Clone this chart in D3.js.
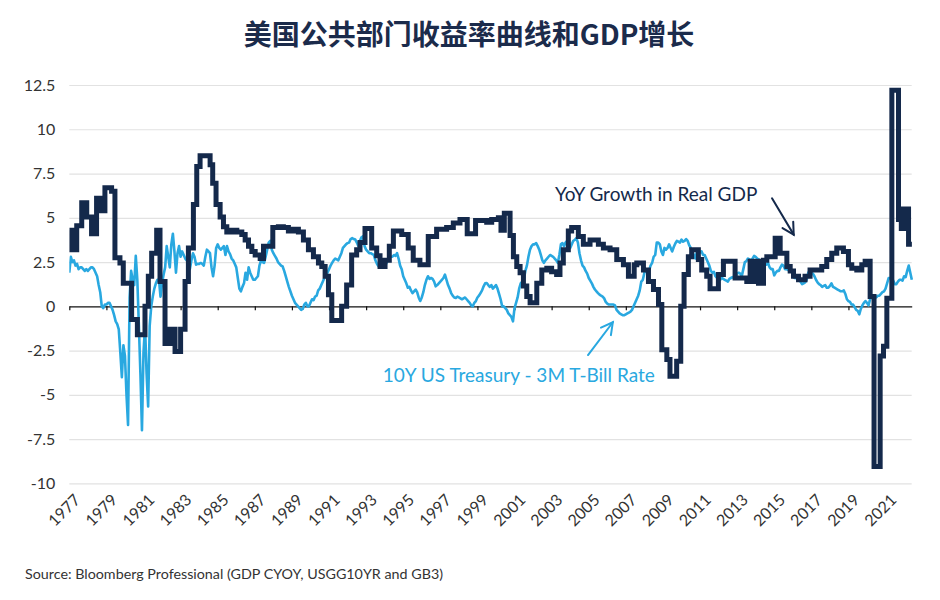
<!DOCTYPE html>
<html>
<head>
<meta charset="utf-8">
<script src="https://cdn.jsdelivr.net/npm/d3@7"></script>
<style>
  body { margin: 0; background: #fff; }
  svg text { font-family: Lato, "Open Sans", sans-serif; }
</style>
</head>
<body>
<svg id="chart" width="940" height="600"></svg>
<script>
// ---- data ----
var chartTitle = "美国公共部门收益率曲线和GDP增长";
var sourceText = "Source: Bloomberg Professional (GDP CYOY, USGG10YR and GB3)";
var gdpLabel = "YoY Growth in Real GDP";
var spreadLabel = "10Y US Treasury - 3M T-Bill Rate";

var yTicks = [-10, -7.5, -5, -2.5, 0, 2.5, 5, 7.5, 10, 12.5];
var xTicks = d3.range(1977, 2022, 2);

// YoY real GDP growth: value holds from each change date (decimal year) to the next
var gdpYears = [
  1977.00, 1977.13, 1977.40, 1977.67, 1977.94, 1978.20, 1978.47, 1978.74, 1978.92, 1979.28,
  1979.46, 1979.73, 1979.91, 1980.36, 1980.67, 1981.08, 1981.26, 1981.44, 1981.71, 1981.89,
  1982.16, 1982.43, 1982.70, 1983.00, 1983.24, 1983.42, 1983.69, 1983.87, 1984.05, 1984.59,
  1984.73, 1984.91, 1985.13, 1985.31, 1985.49, 1985.76, 1986.03, 1986.30, 1986.48, 1986.66,
  1986.84, 1987.02, 1987.29, 1987.47, 1987.97, 1988.27, 1988.54, 1988.81, 1989.08, 1989.35,
  1989.62, 1989.89, 1990.16, 1990.43, 1990.61, 1990.79, 1990.97, 1991.15, 1991.68, 1991.95,
  1992.22, 1992.49, 1992.67, 1992.94, 1993.30, 1993.57, 1993.75, 1994.02, 1994.25, 1994.47,
  1994.92, 1995.27, 1995.54, 1995.90, 1996.35, 1996.80, 1997.34, 1997.70, 1998.06, 1998.45,
  1998.90, 1999.50, 1999.77, 2000.13, 2000.27, 2000.45, 2000.76, 2000.94, 2001.12, 2001.30,
  2001.48, 2001.66, 2001.84, 2002.20, 2002.47, 2002.74, 2003.00, 2003.27, 2003.45, 2003.63,
  2003.90, 2004.08, 2004.44, 2004.71, 2005.07, 2005.52, 2005.79, 2006.15, 2006.51, 2006.87,
  2007.14, 2007.45, 2007.59, 2007.95, 2008.22, 2008.49, 2008.76, 2008.94, 2009.21, 2009.38,
  2009.74, 2009.96, 2010.14, 2010.37, 2010.55, 2010.91, 2011.09, 2011.36, 2011.54, 2011.99,
  2012.26, 2012.89, 2013.52, 2013.70, 2013.80, 2013.95, 2014.15, 2014.42, 2014.60, 2015.05,
  2015.32, 2015.68, 2015.86, 2016.04, 2016.31, 2016.66, 2016.93, 2017.56, 2017.83, 2018.10,
  2018.37, 2018.73, 2019.00, 2019.18, 2019.45, 2019.72, 2019.90, 2020.17, 2020.38, 2020.71,
  2020.89, 2021.07, 2021.34, 2021.70, 2021.85, 2021.97, 2022.24
];
var gdpValues = [
  4.3, 3.2, 4.55, 5.85, 5.05, 4.1, 6.1, 5.4, 6.7, 6.5,
  2.75, 2.45, 1.3, -0.75, -1.6, 0.0, 1.7, 3.0, 4.3, 1.4,
  -2.1, -1.3, -2.55, -1.3, 1.4, 3.3, 5.75, 7.9, 8.5, 8.0,
  6.95, 5.75, 5.05, 4.5, 4.2, 4.3, 4.2, 4.05, 3.75, 3.4,
  3.1, 2.9, 2.7, 3.4, 4.45, 4.5, 4.45, 4.25, 4.35, 4.2,
  3.75, 3.2, 2.8, 2.45, 2.25, 1.7, 0.65, -0.8, 0.0, 1.2,
  2.9, 3.2, 3.6, 4.4, 3.3, 2.85, 2.25, 2.6, 3.4, 4.25,
  4.05, 3.3, 2.6, 2.35, 3.95, 4.35, 4.45, 4.7, 4.9, 4.1,
  4.85, 4.75, 4.9, 5.0, 4.3, 5.25, 4.0, 2.8, 2.25, 1.9,
  1.15, 0.55, 0.2, 1.3, 2.05, 2.15, 1.95, 1.8, 2.45, 3.2,
  4.25, 4.45, 3.95, 3.5, 3.75, 3.5, 3.3, 3.2, 2.65, 2.35,
  1.7, 2.35, 2.45, 2.05, 1.4, 0.95, 0.1, -2.45, -3.0, -3.95,
  -3.1, 0.0, 1.8, 2.8, 3.2, 2.65, 2.05, 1.7, 1.0, 1.8,
  2.55, 1.6, 1.4, 2.55, 1.4, 2.55, 1.3, 2.6, 2.8, 3.85,
  3.0, 2.25, 2.0, 1.7, 1.5, 1.7, 2.05, 2.25, 2.65, 3.0,
  3.3, 3.1, 2.35, 2.15, 2.05, 2.35, 2.55, 0.55, -9.05, -2.8,
  -2.25, 0.45, 12.2, 4.9, 4.4, 5.5, 3.5
];
var gdpEnd = 2022.42;

// 10Y minus 3M T-bill spread, monthly from Jan 1977
var spreadStart = 1977;
var spreadValues = [
  1.9, 2.8, 2.5, 2.6, 2.3, 2.4, 2.1, 2.2, 2.2, 2.1, 2.0, 2.1,          // 1977
  2.0, 2.1, 2.2, 2.2, 2.1, 1.9, 1.7, 1.2, 0.8, 0.0, -0.1, 0.1,         // 1978
  0.1, 0.2, 0.2, 0.0, -0.2, -0.5, -0.85, -1.0, -1.3, -2.6, -4.0, -2.2, // 1979
  -2.8, -5.0, -6.7, 0.5, 2.0, 1.5, 1.2, 2.85, 1.5, -1.1, -3.8, -7.0,   // 1980
  -2.6, -1.1, -3.8, -5.65, -1.1, 0.0, 0.55, 1.0, 1.3, 1.5, 1.5, 0.55,  // 1981
  1.3, 1.8, 2.2, 3.4, 2.8, 2.2, 3.5, 4.1, 3.1, 1.9, 3.0, 3.4,          // 1982
  2.8, 3.1, 2.9, 2.7, 2.6, 2.45, 2.1, 2.6, 3.0, 2.8, 2.35, 2.4,        // 1983
  2.4, 2.45, 2.4, 2.3, 2.8, 3.2, 3.1, 3.0, 2.2, 1.7, 2.3, 3.3,         // 1984
  3.5, 3.3, 3.2, 3.3, 3.4, 2.9, 3.4, 3.1, 2.95, 2.7, 2.6, 2.4,         // 1985
  2.2, 1.6, 1.0, 0.85, 1.1, 1.3, 1.9, 1.5, 2.2, 1.9, 1.7, 1.5,         // 1986
  1.5, 1.6, 1.7, 2.3, 2.6, 2.5, 2.45, 2.8, 3.2, 3.6, 3.7, 3.2,         // 1987
  3.0, 2.85, 2.7, 2.5, 2.4, 2.3, 2.25, 2.0, 1.7, 1.4, 1.1, 0.85,       // 1988
  0.6, 0.4, 0.2, 0.1, 0.0, -0.1, -0.2, -0.15, 0.1, 0.2, 0.0, 0.0,      // 1989
  0.2, 0.4, 0.35, 0.55, 0.6, 0.9, 1.0, 1.2, 1.4, 1.6, 1.7, 1.9,        // 1990
  2.1, 2.3, 2.45, 2.6, 2.7, 2.65, 2.6, 2.8, 3.0, 3.3, 3.4, 3.5,        // 1991
  3.57, 3.6, 3.8, 3.85, 3.8, 3.77, 3.6, 3.4, 3.7, 3.9, 3.96, 3.4,      // 1992
  3.2, 3.1, 3.0, 3.0, 2.95, 2.9, 2.6, 2.4, 2.26, 2.3, 2.45, 2.4,       // 1993
  2.35, 2.4, 2.6, 2.75, 2.8, 2.8, 2.9, 2.85, 3.0, 2.7, 2.3, 2.1,       // 1994
  1.7, 1.5, 1.3, 1.05, 1.1, 0.9, 0.75, 0.85, 0.95, 0.8, 0.5, 0.3,      // 1995
  0.5, 0.8, 1.2, 1.5, 1.7, 1.55, 1.6, 1.55, 1.4, 1.13, 1.2, 1.3,       // 1996
  1.4, 1.5, 1.6, 1.79, 1.5, 1.2, 1.0, 0.75, 0.6, 0.5, 0.47, 0.55,      // 1997
  0.5, 0.45, 0.4, 0.45, 0.5, 0.4, 0.3, 0.2, 0.05, 0.0, 0.2, 0.3,       // 1998
  0.5, 0.6, 0.75, 0.9, 1.13, 1.3, 1.32, 1.2, 1.1, 1.2, 1.0, 1.1,       // 1999
  1.2, 1.0, 0.7, 0.4, 0.0, 0.0, -0.1, -0.2, -0.4, -0.5, -0.6, -0.85,   // 2000
  -0.1, 0.2, 0.5, 1.0, 1.3, 1.4, 1.5, 2.0, 2.3, 2.8, 3.2, 3.4,         // 2001
  3.5, 3.5, 3.57, 3.4, 3.2, 2.9, 2.6, 2.45, 2.6, 2.7, 2.8, 2.9,        // 2002
  2.85, 2.8, 2.7, 2.6, 2.45, 2.9, 3.5, 3.57, 3.4, 3.6, 3.7, 3.6,       // 2003
  3.3, 3.5, 3.7, 3.75, 3.85, 3.6, 3.0, 2.6, 2.3, 2.2, 2.0, 1.85,       // 2004
  1.6, 1.45, 1.3, 1.1, 0.95, 0.85, 0.75, 0.66, 0.6, 0.55, 0.45, 0.25,  // 2005
  0.15, 0.1, 0.1, 0.1, 0.1, 0.05, -0.2, -0.3, -0.4, -0.45, -0.5, -0.5, // 2006
  -0.45, -0.4, -0.35, -0.3, -0.2, 0.0, 0.2, 0.4, 0.6, 0.9, 1.4, 1.5,   // 2007
  1.9, 2.0, 1.9, 2.0, 2.3, 2.45, 2.8, 2.9, 3.6, 3.6, 3.5, 3.1,         // 2008
  2.9, 3.3, 3.2, 3.3, 3.5, 3.3, 3.1, 3.35, 3.55, 3.7, 3.65, 3.6,       // 2009
  3.77, 3.65, 3.7, 3.8, 3.7, 3.45, 3.3, 3.1, 2.9, 2.7, 3.1, 3.1,       // 2010
  3.05, 3.1, 2.9, 2.9, 2.7, 2.5, 2.3, 2.0, 1.9, 1.95, 1.7, 1.6,        // 2011
  1.6, 1.5, 1.6, 1.55, 1.5, 1.45, 1.4, 1.55, 1.6, 1.65, 1.6, 1.7,      // 2012
  1.85, 1.9, 1.85, 1.7, 2.1, 2.5, 2.55, 2.7, 2.65, 2.6, 2.7, 2.85,     // 2013
  2.8, 2.7, 2.65, 2.6, 2.5, 2.55, 2.4, 2.35, 2.45, 2.2, 2.1, 2.1,      // 2014
  1.75, 1.9, 2.0, 2.0, 2.2, 2.35, 2.3, 2.1, 2.1, 2.05, 2.1, 2.0,       // 2015
  1.9, 1.6, 1.6, 1.55, 1.5, 1.4, 1.25, 1.3, 1.35, 1.5, 1.9, 2.0,       // 2016
  1.9, 1.85, 1.7, 1.5, 1.35, 1.25, 1.2, 1.1, 1.15, 1.2, 1.05, 1.05,    // 2017
  1.15, 1.3, 1.1, 1.05, 1.0, 0.95, 0.9, 0.85, 0.85, 0.9, 0.7, 0.4,     // 2018
  0.3, 0.25, 0.1, 0.1, -0.05, -0.2, -0.25, -0.45, -0.15, 0.05, 0.2, 0.3, // 2019
  0.2, 0.05, 0.4, 0.55, 0.6, 0.55, 0.5, 0.6, 0.6, 0.7, 0.8, 0.85,      // 2020
  1.0, 1.3, 1.6, 1.6, 1.55, 1.45, 1.25, 1.25, 1.4, 1.5, 1.5, 1.45,     // 2021
  1.7, 1.65, 2.0, 2.3, 1.9, 1.5                                        // 2022
];

// annotation anchors in data units (year, value)
var gdpNote = { text: [2003.18, 5.95], from: [2014.88, 6.1], to: [2016.05, 4.05] };
var spreadNote = { text: [1993.9, -4.25], from: [2004.96, -2.75], to: [2006.3, -0.9] };

// ---- chart ----
var navy = "#14294b";
var sky = "#29a8e0";

var svg = d3.select("#chart");
var x = d3.scaleLinear().domain([1977, 2022.41]).range([69.3, 911.7]);
var y = d3.scaleLinear().domain([-10, 12.5]).range([483.4, 85]);

svg.append("text")
    .attr("x", 469).attr("y", 45)
    .attr("text-anchor", "middle")
    .style("font-family", "'Noto Sans CJK SC', sans-serif")
    .style("font-weight", 700)
    .style("font-size", "28px")
    .attr("fill", "#1b2b4b")
    .text(chartTitle);

// horizontal grid + y labels
var yAxis = svg.append("g")
    .attr("transform", "translate(" + x.range()[0] + ",0)")
    .call(d3.axisLeft(y)
        .tickValues(yTicks)
        .tickSize(-(x.range()[1] - x.range()[0]))
        .tickPadding(14)
        .tickFormat(function(d){ return String(d); }));
yAxis.select(".domain").remove();
yAxis.selectAll(".tick line")
    .attr("stroke", "#e2e2e2")
    .attr("stroke-width", 1.2)
    .attr("opacity", function(d){ return d === 0 ? 0 : 1; });
yAxis.selectAll(".tick text")
    .attr("fill", "#333")
    .style("font-family", "Lato, sans-serif")
    .style("font-size", "16px");

// zero line with year ticks
var xAxis = svg.append("g")
    .attr("transform", "translate(0," + y(0) + ")")
    .call(d3.axisBottom(x)
        .tickValues(xTicks)
        .tickSize(4)
        .tickSizeOuter(0)
        .tickFormat(""));
xAxis.select(".domain").attr("stroke", "#111").attr("stroke-width", 1.4);
xAxis.selectAll(".tick line").attr("stroke", "#111").attr("stroke-width", 1.2);

svg.append("g").selectAll("text")
    .data(xTicks)
    .join("text")
    .attr("transform", function(d){ return "translate(" + (x(d) + 12) + ",501) rotate(-45)"; })
    .attr("text-anchor", "end")
    .attr("fill", "#333")
    .style("font-size", "16px")
    .text(function(d){ return d; });

// lines
svg.append("clipPath").attr("id", "plotclip")
    .append("rect")
    .attr("x", x.range()[0]).attr("y", 70)
    .attr("width", x.range()[1] - x.range()[0] + 2)
    .attr("height", 430);

var spreadPts = spreadValues.map(function(v, i){ return [spreadStart + i / 12, v]; });
var gdpPts = gdpYears.map(function(t, i){ return [t, gdpValues[i]]; });
gdpPts.push([gdpEnd, gdpValues[gdpValues.length - 1]]);

var plot = svg.append("g").attr("clip-path", "url(#plotclip)");

plot.append("path")
    .datum(spreadPts)
    .attr("fill", "none")
    .attr("stroke", sky)
    .attr("stroke-width", 2.6)
    .attr("stroke-linejoin", "round")
    .attr("d", d3.line().x(function(d){ return x(d[0]); }).y(function(d){ return y(d[1]); }));

plot.append("path")
    .datum(gdpPts)
    .attr("fill", "none")
    .attr("stroke", navy)
    .attr("stroke-width", 5)
    .attr("stroke-linejoin", "miter")
    .attr("d", d3.line().curve(d3.curveStepAfter)
        .x(function(d){ return x(d[0]); }).y(function(d){ return y(d[1]); }));

// annotations
function arrow(note, color){
    var x1 = x(note.from[0]), y1 = y(note.from[1]);
    var x2 = x(note.to[0]), y2 = y(note.to[1]);
    var ang = Math.atan2(y2 - y1, x2 - x1);
    var len = 13, spread = 0.5;
    var g = svg.append("g").attr("stroke", color).attr("stroke-width", 2)
        .attr("fill", "none").attr("stroke-linecap", "round");
    g.append("line").attr("x1", x1).attr("y1", y1).attr("x2", x2).attr("y2", y2);
    g.append("path").attr("d",
        "M" + (x2 - len * Math.cos(ang - spread)) + "," + (y2 - len * Math.sin(ang - spread)) +
        "L" + x2 + "," + y2 +
        "L" + (x2 - len * Math.cos(ang + spread)) + "," + (y2 - len * Math.sin(ang + spread)));
}

svg.append("text")
    .attr("x", x(gdpNote.text[0])).attr("y", y(gdpNote.text[1]))
    .attr("fill", navy)
    .style("font-size", "19px")
    .text(gdpLabel);
arrow(gdpNote, navy);

svg.append("text")
    .attr("x", x(spreadNote.text[0])).attr("y", y(spreadNote.text[1]))
    .attr("fill", sky)
    .style("font-size", "19px")
    .text(spreadLabel);
arrow(spreadNote, sky);

svg.append("text")
    .attr("x", 25).attr("y", 579)
    .attr("fill", "#333")
    .style("font-size", "14.3px")
    .text(sourceText);
</script>
</body>
</html>
